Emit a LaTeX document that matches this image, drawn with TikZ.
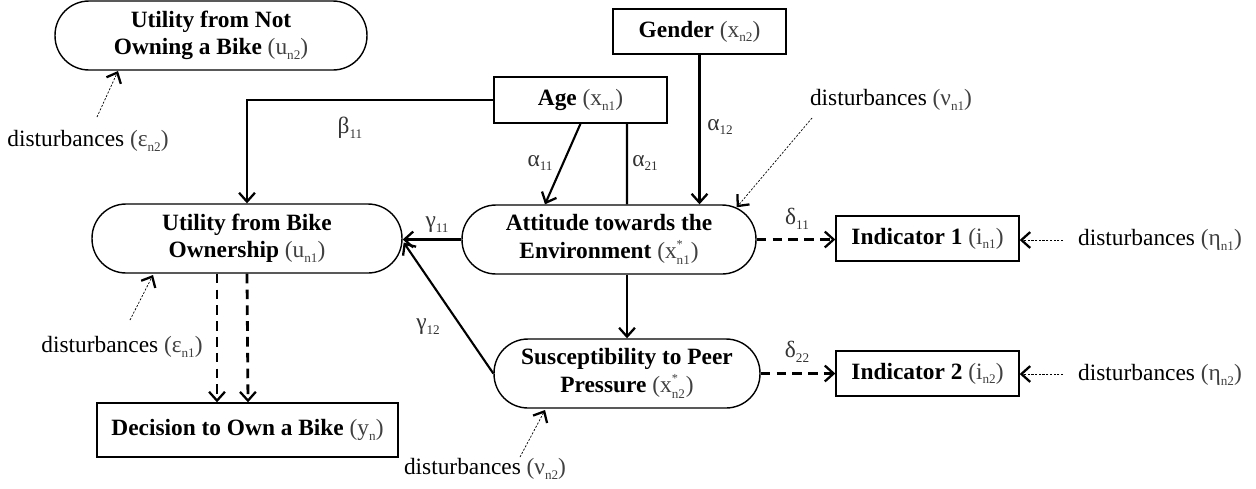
\documentclass[tikz,border=0pt]{standalone}
\usepackage{fontspec}
\setmainfont{Liberation Serif}
\usetikzlibrary{arrows.meta,calc}
\newcommand\sbx[1]{\raisebox{-0.45ex}{\fontsize{7.5}{8}\selectfont #1}}
\newcommand\vr[2]{\textmd{\color{black!75}(#1\sbx{#2})}}
\newcommand\vrs[2]{\textmd{\color{black!75}(#1$\vcenter{\hbox{}}^{\hbox{\fontsize{7}{8}\selectfont *}}_{\hbox{\fontsize{7.5}{8}\selectfont #2}}$)}}
\newcommand\mainfs{\fontsize{13.3}{15.4}\selectfont}
\begin{document}
\begin{tikzpicture}[x=0.02cm,y=-0.02cm,
  every node/.style={font=\mainfs, inner sep=0pt},
  lat/.style={draw, line width=0.8pt, rounded corners=0.68cm, minimum height=1.38cm, align=center, font=\mainfs\bfseries},
  obs/.style={draw, line width=0.8pt, align=center, font=\mainfs\bfseries},
  arr/.style={line width=1.2pt, -{Straight Barb[length=5pt,width=9pt,line width=1.3pt]}},
  dline/.style={line width=1.6pt, dash pattern=on 5.5pt off 3.5pt},
  darr/.style={dline, -{Straight Barb[length=5pt,width=9pt,line width=1.3pt]}},
  dist/.style={draw=black, line width=0.4pt, dash pattern=on 1.2pt off 0.9pt, -{Straight Barb[length=5pt,width=9pt,line width=1.3pt]}},
  lab/.style={text=black!80}]
\useasboundingbox (0,0) rectangle (1256,488);

% nodes
\node[lat, minimum width=6.24cm] (U2) at (211,35.5) {Utility from Not\\Owning a Bike \vr{u}{n2}};
\node[lat, minimum width=6.2cm] (U1) at (247,238.5) {Utility from Bike\\Ownership \vr{u}{n1}};
\node[lat, minimum width=5.88cm] (Att) at (609,239.5) {Attitude towards the\\Environment \vrs{x}{n1}};
\node[lat, minimum width=5.32cm] (Sus) at (627,373.5) {Susceptibility to Peer\\Pressure \vrs{x}{n2}};
\node[obs, minimum width=3.46cm, minimum height=0.92cm] (Age) at (580.5,100) {Age \vr{x}{n1}};
\node[obs, minimum width=3.46cm, minimum height=0.9cm] (Gen) at (699.5,31.5) {Gender \vr{x}{n2}};
\node[obs, minimum width=3.66cm, minimum height=0.9cm] (I1) at (927.5,238.5) {Indicator 1 \vr{i}{n1}};
\node[obs, minimum width=3.66cm, minimum height=0.9cm] (I2) at (927.5,373.5) {Indicator 2 \vr{i}{n2}};
\node[obs, minimum width=6.02cm, minimum height=1.08cm] (Dec) at (247.5,430) {Decision to Own a Bike \vr{y}{n}};

% disturbance texts
\node (dE2) at (88,141) {disturbances \vr{ε}{n2}};
\node (dE1) at (122,347) {disturbances \vr{ε}{n1}};
\node (dV1) at (891,100) {disturbances \vr{ν}{n1}};
\node (dH1) at (1160,240) {disturbances \vr{η}{n1}};
\node (dH2) at (1160,375) {disturbances \vr{η}{n2}};
\node (dV2) at (485,469) {disturbances \vr{ν}{n2}};

% coefficient labels
\node[lab] (b11) at (350,128) {β\sbx{11}};
\node[lab] (a11) at (540,163) {α\sbx{11}};
\node[lab] (a21) at (645,163) {α\sbx{21}};
\node[lab] (a12) at (720,127) {α\sbx{12}};
\node[lab] (g11) at (437,225) {γ\sbx{11}};
\node[lab] (g12) at (428,327) {γ\sbx{12}};
\node[lab] (d11) at (797,219) {δ\sbx{11}};
\node[lab] (d22) at (797,352) {δ\sbx{22}};

% connectors
\draw[arr] (Age.west) -| (U1.north);
\draw[dline] ($(U2.south)+(2,0)$) -- ($(U2.south)+(2,0)$ |- {$(U1.north)+(0,-7)$});
\draw[arr] (Age.south) -- ($(Att.north)+(-64,0)$);
\draw[line width=1.2pt] ($(Age.south)+(46.5,0)$) -- ($(Att.north)+(18,0)$);
\draw[arr] (Gen.south) -- (Gen.south |- Att.north);
\draw[arr] (Att.west) -- (Att.west -| U1.east);
\draw[arr] (Sus.west) -- ($(U1.east)+(1,4)$);
\draw[arr] (Sus.north |- Att.south) -- (Sus.north);
\draw[darr] (Att.east) -- (Att.east -| I1.west);
\draw[darr] (Sus.east) -- (Sus.east -| I2.west);
\draw[darr] ($(U1.south)+(-30,0)$) -- ($(Dec.north)+(-30.5,0)$);
\draw[darr] (U1.south) -- ($(Dec.north)+(0.5,0)$);

% disturbance arrows
\coordinate (e2s) at (97,117);
\coordinate (e1s) at (130,320);
\coordinate (v1s) at (812,118);
\coordinate (h1s) at (1063,240);
\coordinate (h2s) at (1063,374);
\coordinate (v2s) at (520,457);
\draw[dist] (e2s) -- (118,71);
\draw[dist] (e1s) -- (153,275);
\draw[dist] (v1s) -- ($(Att.north east)+(-20,3)$);
\draw[dist] (h1s) -- (h1s -| I1.east);
\draw[dist] (h2s) -- (h2s -| I2.east);
\draw[dist] (v2s) -- (545,410);
\end{tikzpicture}
\end{document}
